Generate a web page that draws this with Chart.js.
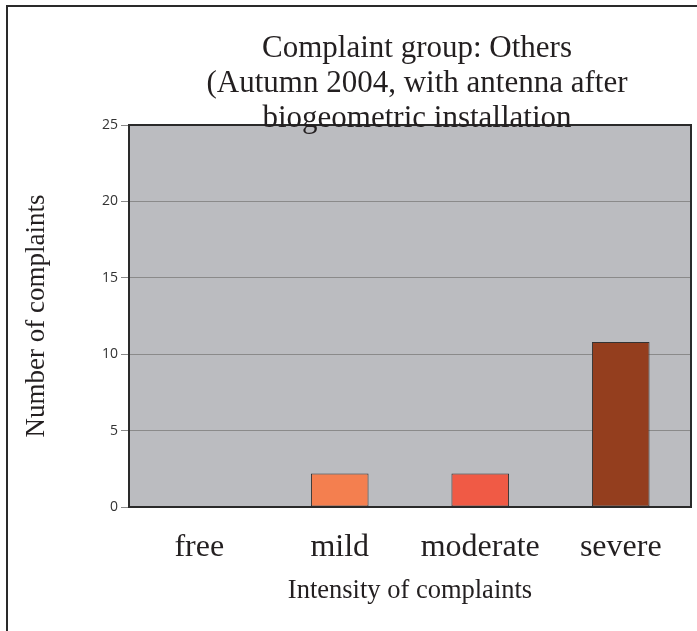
<!DOCTYPE html>
<html>
<head>
<meta charset="utf-8">
<script src="https://cdn.jsdelivr.net/npm/chart.js@4/dist/chart.umd.min.js"></script>
<style>
  html, body { margin: 0; padding: 0; background: #fff; }
</style>
</head>
<body>
<canvas id="chart" width="697" height="631"></canvas>
<script>
// data
const categories = ['free', 'mild', 'moderate', 'severe'];
const complaintCounts = [0, 2.2, 2.2, 10.8];
const barColors = ['#f47f4f', '#f47f4f', '#f05a45', '#943e1e'];
const yTickValues = [0, 5, 10, 15, 20, 25];
const titleLines = ['Complaint group: Others', '(Autumn 2004, with antenna after', 'biogeometric installation'];

const textColor = '#231f20';
const serif = "'Liberation Serif', 'Times New Roman', serif";

// plot background, frame, outer border and the overlapping title
const framePlugin = {
  id: 'frame',
  beforeDraw(chart) {
    const { ctx, chartArea: a } = chart;
    ctx.save();
    ctx.fillStyle = '#fff';
    ctx.fillRect(0, 0, chart.width, chart.height);
    ctx.fillStyle = '#bbbcc0';
    ctx.fillRect(a.left, a.top, a.right - a.left, a.bottom - a.top);
    ctx.restore();
  },
  afterDraw(chart) {
    const { ctx, chartArea: a } = chart;
    ctx.save();
    ctx.strokeStyle = '#2a2a2a';
    ctx.lineWidth = 2;
    ctx.strokeRect(a.left, a.top, a.right - a.left, a.bottom - a.top);

    ctx.beginPath();
    ctx.moveTo(7, chart.height);
    ctx.lineTo(7, 6);
    ctx.lineTo(chart.width, 6);
    ctx.stroke();

    ctx.fillStyle = textColor;
    ctx.font = '31px ' + serif;
    ctx.textAlign = 'center';
    ctx.textBaseline = 'alphabetic';
    const cx = (a.left + a.right) / 2 + 7;
    titleLines.forEach((line, i) => {
      ctx.fillText(line, cx, a.top - 68 + i * 35);
    });
    ctx.restore();
  }
};

new Chart(document.getElementById('chart'), {
  type: 'bar',
  data: {
    labels: categories,
    datasets: [{
      data: complaintCounts,
      backgroundColor: barColors,
      borderColor: '#333',
      borderWidth: 1,
      borderSkipped: false,
      barPercentage: 0.41,
      categoryPercentage: 1
    }]
  },
  options: {
    responsive: false,
    animation: false,
    layout: { padding: { top: 125, right: 6, left: 0, bottom: 0 } },
    plugins: {
      legend: { display: false },
      title: { display: false },
      tooltip: { enabled: false }
    },
    scales: {
      x: {
        grid: { display: false, drawTicks: false },
        border: { display: false },
        ticks: {
          color: textColor,
          padding: 21,
          font: { family: serif, size: 32 }
        },
        title: {
          display: true,
          text: 'Intensity of complaints',
          color: textColor,
          font: { family: serif, size: 26.5 },
          padding: { top: 0, bottom: 24 }
        },
        afterFit(scale) { scale.height = 124; }
      },
      y: {
        min: 0,
        max: 25,
        afterBuildTicks(scale) { scale.ticks = yTickValues.map(v => ({ value: v })); },
        grid: { color: '#8a8a8a', lineWidth: 1, tickLength: 8, tickColor: '#8a8a8a' },
        border: { display: false },
        ticks: {
          color: '#333',
          padding: 3,
          font: { family: "'Open Sans', 'Noto Sans', sans-serif", size: 14 }
        },
        title: {
          display: true,
          text: 'Number of complaints',
          color: textColor,
          font: { family: serif, size: 27 },
          padding: { top: 21, bottom: 0 }
        },
        afterFit(scale) { scale.width = 129; }
      }
    }
  },
  plugins: [framePlugin]
});
</script>
</body>
</html>
